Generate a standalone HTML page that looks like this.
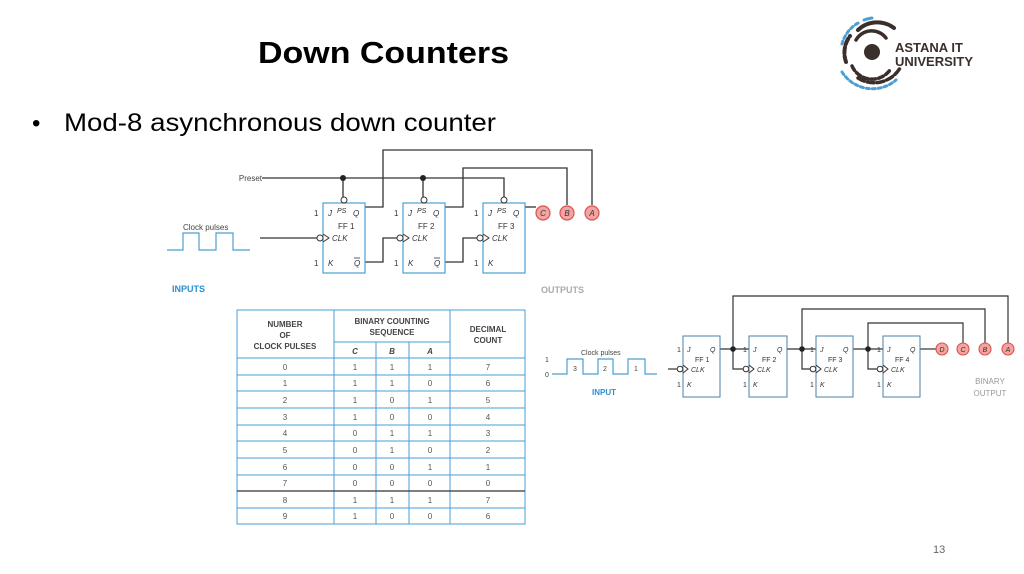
<!DOCTYPE html>
<html><head><meta charset="utf-8"><style>
html,body{margin:0;padding:0;background:#fff;}
svg{display:block;font-family:"Liberation Sans",sans-serif;}
</style></head><body>
<svg width="1024" height="574" viewBox="0 0 1024 574" xmlns="http://www.w3.org/2000/svg">
<rect width="1024" height="574" fill="#fff"/>
<!-- title -->
<text x="258" y="63" font-size="31" font-weight="bold" fill="#000" textLength="251" lengthAdjust="spacingAndGlyphs">Down Counters</text>
<text x="32" y="131" font-size="24" fill="#000">•</text>
<text x="64" y="131" font-size="25" fill="#000" textLength="432" lengthAdjust="spacingAndGlyphs">Mod-8 asynchronous down counter</text>
<text x="933" y="553" font-size="11" fill="#666">13</text>

<!-- logo -->
<g fill="none" stroke-linecap="round">
<circle cx="872" cy="52" r="8" fill="#3a2f2a"/>
<path d="M858 30 A28 28 0 0 1 894 28" stroke="#3a2f2a" stroke-width="4"/>
<path d="M846 62 A28 28 0 0 1 850 36" stroke="#3a2f2a" stroke-width="4" stroke-dasharray="6 3"/>
<path d="M856 40 A18 18 0 0 1 886 38" stroke="#3a2f2a" stroke-width="3.5"/>
<path d="M852 66 A22 22 0 0 0 890 70" stroke="#3a2f2a" stroke-width="3.5" stroke-dasharray="5 3"/>
<path d="M842 44 A34 34 0 0 1 860 22" stroke="#4a9fd5" stroke-width="3" stroke-dasharray="3 3"/>
<path d="M842 72 A36 36 0 0 0 896 80" stroke="#4a9fd5" stroke-width="3" stroke-dasharray="3 3"/>
<path d="M858 78 A30 30 0 0 0 900 68" stroke="#3a2f2a" stroke-width="3.5" stroke-dasharray="7 3"/>
<path d="M864 20 A34 34 0 0 1 872 18" stroke="#4a9fd5" stroke-width="3"/>
</g>
<text x="895" y="52" font-size="13" font-weight="bold" fill="#3a2f2a">ASTANA IT</text>
<text x="895" y="66" font-size="13" font-weight="bold" fill="#3a2f2a">UNIVERSITY</text>

<!-- top circuit -->
<g stroke="#333" stroke-width="1.3" fill="none">
<!-- preset -->
<path d="M262 178 H504 V197"/>
<path d="M343 178 V197 M423 178 V197"/>
<!-- Q outputs -->
<path d="M365 207 H383 V150 H592 V205"/>
<path d="M445 207 H463 V168 H567 V205"/>
<path d="M525 207 H536"/>
<!-- clock -->
<path d="M260 238 H317"/>
<path d="M365 262 H383 V238 H397"/>
<path d="M445 262 H463 V238 H477"/>
</g>
<g fill="#222"><circle cx="343" cy="178" r="3"/><circle cx="423" cy="178" r="3"/></g>
<g stroke="#4a9fd5" stroke-width="1.2" fill="none">
<path d="M167 250 H183 V233 H199 V250 H216 V233 H233 V250 H250"/>
</g>
<text x="183" y="230" font-size="8" fill="#444">Clock pulses</text>
<text x="262" y="181" font-size="8" fill="#444" text-anchor="end">Preset</text>
<text x="172" y="292" font-size="9" font-weight="bold" fill="#2a8fd0">INPUTS</text>
<text x="541" y="293" font-size="9" font-weight="bold" fill="#aaa">OUTPUTS</text>

<g id="ff1">
<rect x="323" y="203" width="42" height="70" fill="#fff" stroke="#4a9fd5" stroke-width="1.2"/>
<circle cx="344" cy="200" r="3" fill="#fff" stroke="#333"/>
<circle cx="320" cy="238" r="3" fill="#fff" stroke="#333"/>
<path d="M323 234 L329 238 L323 242" fill="none" stroke="#333"/>
<g font-size="8" fill="#333">
<text x="314" y="216">1</text><text x="328" y="216" font-style="italic">J</text>
<text x="337" y="213" font-style="italic" font-size="7">PS</text><text x="353" y="216" font-style="italic">Q</text>
<text x="338" y="229">FF 1</text><text x="332" y="241" font-style="italic">CLK</text>
<text x="314" y="266">1</text><text x="328" y="266" font-style="italic">K</text>
<text x="354" y="266" font-style="italic">Q</text></g>
<path d="M354 258 H360" stroke="#333" stroke-width="0.8"/>
</g>
<g>
<rect x="403" y="203" width="42" height="70" fill="#fff" stroke="#4a9fd5" stroke-width="1.2"/>
<circle cx="424" cy="200" r="3" fill="#fff" stroke="#333"/>
<circle cx="400" cy="238" r="3" fill="#fff" stroke="#333"/>
<path d="M403 234 L409 238 L403 242" fill="none" stroke="#333"/>
<g font-size="8" fill="#333">
<text x="394" y="216">1</text><text x="408" y="216" font-style="italic">J</text>
<text x="417" y="213" font-style="italic" font-size="7">PS</text><text x="433" y="216" font-style="italic">Q</text>
<text x="418" y="229">FF 2</text><text x="412" y="241" font-style="italic">CLK</text>
<text x="394" y="266">1</text><text x="408" y="266" font-style="italic">K</text>
<text x="434" y="266" font-style="italic">Q</text></g>
<path d="M434 258 H440" stroke="#333" stroke-width="0.8"/>
</g>
<g>
<rect x="483" y="203" width="42" height="70" fill="#fff" stroke="#4a9fd5" stroke-width="1.2"/>
<circle cx="504" cy="200" r="3" fill="#fff" stroke="#333"/>
<circle cx="480" cy="238" r="3" fill="#fff" stroke="#333"/>
<path d="M483 234 L489 238 L483 242" fill="none" stroke="#333"/>
<g font-size="8" fill="#333">
<text x="474" y="216">1</text><text x="488" y="216" font-style="italic">J</text>
<text x="497" y="213" font-style="italic" font-size="7">PS</text><text x="513" y="216" font-style="italic">Q</text>
<text x="498" y="229">FF 3</text><text x="492" y="241" font-style="italic">CLK</text>
<text x="474" y="266">1</text><text x="488" y="266" font-style="italic">K</text></g>
</g>
<g fill="#f3a3a0" stroke="#d9534f" stroke-width="1.2">
<circle cx="543" cy="213" r="7"/><circle cx="567" cy="213" r="7"/><circle cx="592" cy="213" r="7"/>
</g>
<g font-size="8" font-style="italic" fill="#333" text-anchor="middle">
<text x="543" y="216">C</text><text x="567" y="216">B</text><text x="592" y="216">A</text></g>

<!-- table -->
<g stroke="#4a9fd5" stroke-width="1" fill="none">
<rect x="237" y="310" width="288" height="214"/>
<path d="M334 310 V524 M450 310 V524 M376 342 V524 M409 342 V524 M334 342 H450"/>
<path d="M237 358 H525 M237 375 H525 M237 391 H525 M237 408 H525 M237 425 H525 M237 441 H525 M237 458 H525 M237 475 H525 M237 508 H525"/>
</g>
<path d="M237 491 H525" stroke="#333" stroke-width="1.2"/>
<g font-size="8" font-weight="bold" fill="#444" text-anchor="middle">
<text x="285" y="327">NUMBER</text><text x="285" y="338">OF</text><text x="285" y="349">CLOCK PULSES</text>
<text x="392" y="324">BINARY COUNTING</text><text x="392" y="335">SEQUENCE</text>
<text x="488" y="332">DECIMAL</text><text x="488" y="343">COUNT</text>
<text x="355" y="354" font-style="italic">C</text><text x="392" y="354" font-style="italic">B</text><text x="430" y="354" font-style="italic">A</text>
</g>
<g font-size="8" fill="#555" text-anchor="middle">
<text x="285" y="370">0</text><text x="355" y="370">1</text><text x="392" y="370">1</text><text x="430" y="370">1</text><text x="488" y="370">7</text>
<text x="285" y="386">1</text><text x="355" y="386">1</text><text x="392" y="386">1</text><text x="430" y="386">0</text><text x="488" y="386">6</text>
<text x="285" y="403">2</text><text x="355" y="403">1</text><text x="392" y="403">0</text><text x="430" y="403">1</text><text x="488" y="403">5</text>
<text x="285" y="420">3</text><text x="355" y="420">1</text><text x="392" y="420">0</text><text x="430" y="420">0</text><text x="488" y="420">4</text>
<text x="285" y="436">4</text><text x="355" y="436">0</text><text x="392" y="436">1</text><text x="430" y="436">1</text><text x="488" y="436">3</text>
<text x="285" y="453">5</text><text x="355" y="453">0</text><text x="392" y="453">1</text><text x="430" y="453">0</text><text x="488" y="453">2</text>
<text x="285" y="470">6</text><text x="355" y="470">0</text><text x="392" y="470">0</text><text x="430" y="470">1</text><text x="488" y="470">1</text>
<text x="285" y="486">7</text><text x="355" y="486">0</text><text x="392" y="486">0</text><text x="430" y="486">0</text><text x="488" y="486">0</text>
<text x="285" y="503">8</text><text x="355" y="503">1</text><text x="392" y="503">1</text><text x="430" y="503">1</text><text x="488" y="503">7</text>
<text x="285" y="519">9</text><text x="355" y="519">1</text><text x="392" y="519">0</text><text x="430" y="519">0</text><text x="488" y="519">6</text>
</g>

<!-- bottom-right circuit -->
<g stroke="#333" stroke-width="1.2" fill="none">
<path d="M720 349 H749 M733 349 V296 H1008 V343"/>
<path d="M787 349 H816 M802 349 V309 H985 V343"/>
<path d="M853 349 H883 M868 349 V323 H963 V343"/>
<path d="M920 349 H936"/>
<path d="M733 349 V369 H743 M802 349 V369 H810 M868 349 V369 H877"/>
<path d="M668 369 H677"/>
</g>
<g fill="#222"><circle cx="733" cy="349" r="2.8"/><circle cx="802" cy="349" r="2.8"/><circle cx="868" cy="349" r="2.8"/></g>
<path d="M552 374 H567 V359 H583 V374 H598 V359 H613 V374 H628 V359 H645 V374 H657" stroke="#4a9fd5" stroke-width="1.2" fill="none"/>
<g font-size="7" fill="#444">
<text x="581" y="355">Clock pulses</text><text x="545" y="362">1</text><text x="545" y="377">0</text>
<text x="573" y="371">3</text><text x="603" y="371">2</text><text x="634" y="371">1</text>
</g>
<text x="592" y="395" font-size="8" font-weight="bold" fill="#2a8fd0">INPUT</text>
<text x="990" y="384" font-size="8" fill="#999" text-anchor="middle">BINARY</text>
<text x="990" y="396" font-size="8" fill="#999" text-anchor="middle">OUTPUT</text>
<g stroke="#4a7fa5" stroke-width="1" fill="#fff">
<rect x="683" y="336" width="37" height="61"/><rect x="749" y="336" width="38" height="61"/>
<rect x="816" y="336" width="37" height="61"/><rect x="883" y="336" width="37" height="61"/>
</g>
<g stroke="#333" fill="#fff">
<circle cx="680" cy="369" r="2.8"/><circle cx="746" cy="369" r="2.8"/><circle cx="813" cy="369" r="2.8"/><circle cx="880" cy="369" r="2.8"/>
<path d="M683 365 L688 369 L683 373 M749 365 L754 369 L749 373 M816 365 L821 369 L816 373 M883 365 L888 369 L883 373" fill="none"/>
</g>
<g font-size="7" fill="#333">
<text x="677" y="352">1</text><text x="687" y="352" font-style="italic">J</text><text x="710" y="352" font-style="italic">Q</text><text x="695" y="362">FF 1</text><text x="691" y="372" font-style="italic">CLK</text><text x="677" y="387">1</text><text x="687" y="387" font-style="italic">K</text>
<text x="743" y="352">1</text><text x="753" y="352" font-style="italic">J</text><text x="777" y="352" font-style="italic">Q</text><text x="762" y="362">FF 2</text><text x="757" y="372" font-style="italic">CLK</text><text x="743" y="387">1</text><text x="753" y="387" font-style="italic">K</text>
<text x="810" y="352">1</text><text x="820" y="352" font-style="italic">J</text><text x="843" y="352" font-style="italic">Q</text><text x="828" y="362">FF 3</text><text x="824" y="372" font-style="italic">CLK</text><text x="810" y="387">1</text><text x="820" y="387" font-style="italic">K</text>
<text x="877" y="352">1</text><text x="887" y="352" font-style="italic">J</text><text x="910" y="352" font-style="italic">Q</text><text x="895" y="362">FF 4</text><text x="891" y="372" font-style="italic">CLK</text><text x="877" y="387">1</text><text x="887" y="387" font-style="italic">K</text>
</g>
<g fill="#f3a3a0" stroke="#d9534f" stroke-width="1.1">
<circle cx="942" cy="349" r="6"/><circle cx="963" cy="349" r="6"/><circle cx="985" cy="349" r="6"/><circle cx="1008" cy="349" r="6"/>
</g>
<g font-size="7" font-style="italic" fill="#333" text-anchor="middle">
<text x="942" y="352">D</text><text x="963" y="352">C</text><text x="985" y="352">B</text><text x="1008" y="352">A</text></g>
</svg>
</body></html>
